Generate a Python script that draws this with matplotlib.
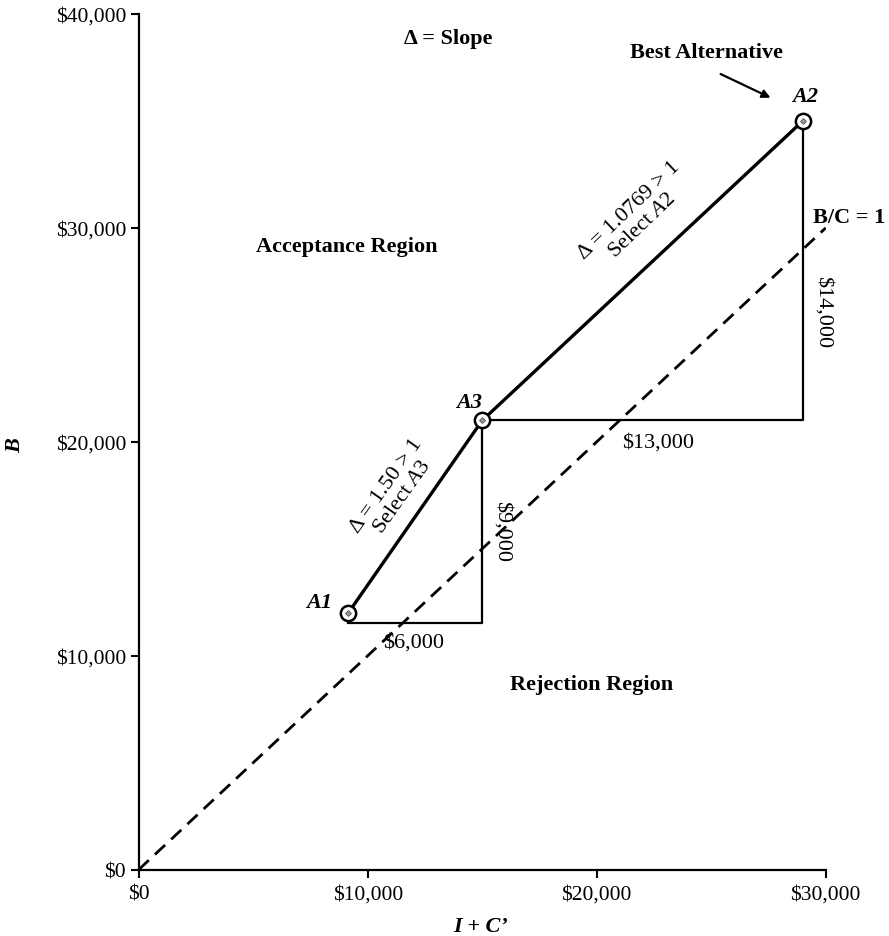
import matplotlib
matplotlib.use("Agg")
import matplotlib.pyplot as plt

# alternatives (I + C', B)
alt_names = ["A1", "A3", "A2"]
alt_cost = [9150, 15000, 29000]
alt_benefit = [12000, 21000, 35000]

# incremental steps: base level of the A1->A3 triangle
step1_base = 11550
step_dx_labels = ["$6,000", "$13,000"]
step_dy_labels = ["$9,000", "$14,000"]
slope_lines = [("Δ = 1.50 > 1", "A3"), ("Δ = 1.0769 > 1", "A2")]

# B/C = 1 line
bc_x = [0, 30000]
bc_y = [0, 30000]

x_ticks = [0, 10000, 20000, 30000]
x_ticklabels = ["$0", "$10,000", "$20,000", "$30,000"]
y_ticks = [0, 10000, 20000, 30000, 40000]
y_ticklabels = ["$0", "$10,000", "$20,000", "$30,000", "$40,000"]

plt.rcParams["font.family"] = ["Liberation Serif", "DejaVu Serif"]
plt.rcParams["mathtext.fontset"] = "custom"
plt.rcParams["mathtext.it"] = "Liberation Serif:italic"
plt.rcParams["mathtext.rm"] = "Liberation Serif"

FS = 16

fig = plt.figure(figsize=(8.89, 9.37), dpi=100)
ax = fig.add_axes([0.156, 0.0708, 0.7728, 0.9132])
ax.set_xlim(0, 30000)
ax.set_ylim(0, 40000)
for s in ("top", "right"):
    ax.spines[s].set_visible(False)
for s in ("left", "bottom"):
    ax.spines[s].set_linewidth(1.6)

ax.set_xticks(x_ticks)
ax.set_xticklabels(x_ticklabels)
ax.set_yticks(y_ticks)
ax.set_yticklabels(y_ticklabels)
ax.tick_params(direction="out", length=6, width=1.5, labelsize=15.5)
ax.tick_params(axis="x", pad=5)
ax.tick_params(axis="y", pad=3)

# B/C = 1 dashed line
ax.plot(bc_x, bc_y, color="black", lw=2.0, ls=(0, (5, 3)), zorder=2)

# incremental triangles
ax.plot([alt_cost[0], alt_cost[1], alt_cost[1]],
        [step1_base, step1_base, alt_benefit[1]], color="black", lw=1.6, zorder=3)
ax.plot([alt_cost[1], alt_cost[2], alt_cost[2]],
        [alt_benefit[1], alt_benefit[1], alt_benefit[2]], color="black", lw=1.6, zorder=3)

# path through alternatives
ax.plot(alt_cost, alt_benefit, color="black", lw=2.4, zorder=4)
ax.plot(alt_cost, alt_benefit, "o", ms=11, mfc="white", mec="black", mew=1.8, zorder=5)
ax.plot(alt_cost, alt_benefit, "D", ms=3, mfc="#999999", mec="#555555", mew=0.6, zorder=6)

# alternative labels
label_pos = [(7900, 12500), (14450, 21870), (29100, 36170)]
for name, (lx, ly) in zip(alt_names, label_pos):
    ax.text(lx, ly, name, fontsize=FS, style="italic", fontweight="bold",
            ha="center", va="center", clip_on=False)

# step labels
ax.text(11990, 10630, step_dx_labels[0], fontsize=FS, ha="center", va="center")
ax.text(15850, 15850, step_dy_labels[0], fontsize=FS, ha="center", va="center", rotation=-90)
ax.text(22680, 20000, step_dx_labels[1], fontsize=FS, ha="center", va="center")
ax.text(29880, 26120, step_dy_labels[1], fontsize=FS, ha="center", va="center",
        rotation=-90, clip_on=False)

# slope annotations
slope_pos = [(11150, 17700, 54.6), (21700, 30500, 43.7)]
for (line1, sel), (sx, sy, rot) in zip(slope_lines, slope_pos):
    ax.text(sx, sy, line1 + "\nSelect $" + sel + "$", fontsize=FS, ha="center",
            va="center", rotation=rot, multialignment="center", linespacing=1.05)

# region / legend text
ax.text(13500, 38880, "Δ = Slope", fontsize=FS, fontweight="bold", ha="center", va="center")
ax.text(9080, 29170, "Acceptance Region", fontsize=FS, fontweight="bold", ha="center", va="center")
ax.text(19780, 8680, "Rejection Region", fontsize=FS, fontweight="bold", ha="center", va="center")
ax.text(24800, 38210, "Best Alternative", fontsize=FS, fontweight="bold", ha="center", va="center")
ax.text(29450, 30515, "B/C = 1", fontsize=FS, fontweight="bold", ha="left", va="center",
        clip_on=False)
ax.annotate("", xy=(27700, 36030), xytext=(25300, 37250),
            arrowprops=dict(arrowstyle="-|>", color="black", lw=1.6, mutation_scale=12))

# axis titles
fig.text(15 / 889, 1 - 446 / 937, "B", fontsize=FS, style="italic", fontweight="bold",
         rotation=90, ha="center", va="center")
fig.text(481 / 889, 1 - 927 / 937, "I + C’", fontsize=FS, style="italic", fontweight="bold",
         ha="center", va="center")

fig.savefig("out.png", dpi=100)
